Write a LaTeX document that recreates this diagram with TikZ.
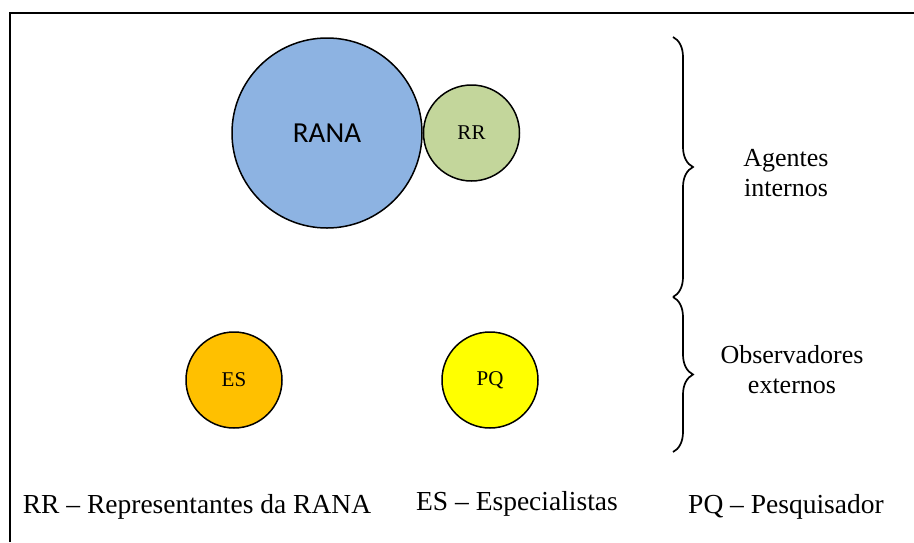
\documentclass[tikz,border=0pt]{standalone}
\usepackage{fontspec}
\setmainfont{Liberation Serif}
\newfontfamily\calibrifont{Carlito}
\usetikzlibrary{positioning,decorations.pathreplacing}
\definecolor{ranablue}{HTML}{8DB3E2}
\definecolor{rrgreen}{HTML}{C3D69B}
\definecolor{esorange}{HTML}{FFC000}
\definecolor{pqyellow}{HTML}{FFFF00}

\begin{document}
\begin{tikzpicture}[x=1pt, y=-1pt, every node/.style={font=\fontsize{26}{30}\selectfont},
  agent/.style={circle,draw,line width=1.5pt,inner sep=0pt,minimum size=96pt,font=\fontsize{21}{24}\selectfont},
  bracket/.style={decorate,decoration={brace,amplitude=20pt},line width=1.7pt},
  legend/.style={anchor=base,font=\fontsize{27.5}{32}\selectfont}]

\useasboundingbox (0,0) rectangle (914,542);
\draw[line width=2.8pt] (10,542) -- (10,13) -- (914,13);

\node[agent,fill=ranablue,minimum size=190pt,font=\calibrifont\fontsize{29}{34}\selectfont] (rana) at (327,133) {RANA};
\node[agent,fill=rrgreen,right=0pt of rana] (rr) {RR};
\node[agent,fill=esorange] (es) at (234,380) {ES};
\node[agent,fill=pqyellow] (pq) at (490,380) {PQ};

\coordinate (b1) at (673,37);
\coordinate (b2) at (673,297);
\coordinate (b3) at (673,452);
\draw[bracket] (b1) -- (b2);
\draw[bracket] (b2) -- (b3);

\node[align=center] (agentes) at (786,173) {Agentes\\internos};
\node[align=center] (externos) at (792,370) {Observadores\\externos};

\node[legend] (legrr) at (197,513) {RR -- Representantes da RANA};
\node[legend] (leges) at (517,510) {ES -- Especialistas};
\node[legend] (legpq) at (786,513) {PQ -- Pesquisador};

\end{tikzpicture}
\end{document}
